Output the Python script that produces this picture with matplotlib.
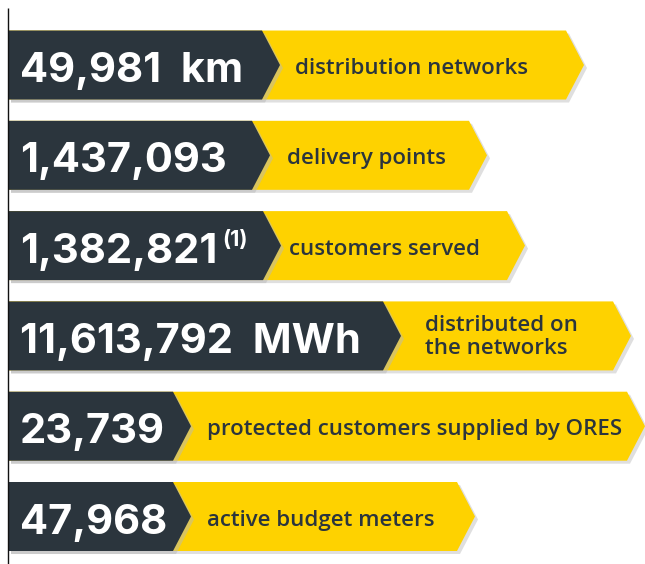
import matplotlib
matplotlib.use("Agg")
import matplotlib.pyplot as plt
from matplotlib.patches import Polygon

# ---- data ----
values = ["49,981  km", "1,437,093", "1,382,821", "11,613,792  MWh", "23,739", "47,968"]
notes = ["", "", "(1)", "", "", ""]
labels = ["distribution networks", "delivery points", "customers served",
          "distributed on\nthe networks", "protected customers supplied by ORES",
          "active budget meters"]

# ---- layout (pixels along x, row index along y) ----
dark_end = [262, 252, 263, 383, 173, 173]
yellow_end = [566, 469, 507, 613, 627, 457]
label_x = [295, 287, 289, 425, 207, 207]
TIP = 18
X0 = 8
ROW = 90.3          # pixels per row
HALF = 34.5 / ROW   # half bar height in row units

DARK = "#2b353d"
YELLOW = "#fed200"
SHADOW = "#b9b9b9"

fig = plt.figure(figsize=(6.45, 5.64), dpi=100)
ax = fig.add_axes([0, 0, 1, 1])
ax.set_xlim(0, 645)
ax.set_ylim(5.526, -0.72)
ax.axis("off")

def arrow(xe, y, dx=0.0, dy=0.0):
    t, b = y - HALF + dy, y + HALF + dy
    return [(X0 + dx, t), (xe + dx, t), (xe + TIP + dx, y + dy), (xe + dx, b), (X0 + dx, b)]

renderer = fig.canvas.get_renderer()
sh_dy = 3 / ROW
for i in range(len(values)):
    y = i
    ax.add_patch(Polygon(arrow(yellow_end[i], y, 3, sh_dy), closed=True,
                         fc=SHADOW, ec="none", alpha=0.45, zorder=1))
    ax.add_patch(Polygon(arrow(yellow_end[i], y), closed=True, fc=YELLOW, ec="none", zorder=2))
    ax.add_patch(Polygon(arrow(dark_end[i], y, 3, sh_dy), closed=True,
                         fc=SHADOW, ec="none", alpha=0.5, zorder=3))
    ax.add_patch(Polygon(arrow(dark_end[i], y), closed=True, fc=DARK, ec="none", zorder=4))

    t = ax.text(20, y + 17 / ROW, values[i], color="white", fontsize=30,
                fontfamily="Inter", fontweight="bold", va="baseline", ha="left", zorder=5)
    if notes[i]:
        bb = t.get_window_extent(renderer)
        xr = ax.transData.inverted().transform((bb.x1, bb.y0))[0]
        ax.text(xr + 5, y + 0.5 / ROW, notes[i], color="white", fontsize=15.5,
                fontfamily="Inter", fontweight="bold", va="baseline", ha="left", zorder=5)
    if "\n" in labels[i]:
        ax.text(label_x[i], y + 1 / ROW, labels[i], color=DARK, fontsize=16,
                fontfamily="Open Sans", fontweight="semibold", va="center", ha="left",
                linespacing=1.15, zorder=5)
    else:
        ax.text(label_x[i], y + 9 / ROW, labels[i], color=DARK, fontsize=16,
                fontfamily="Open Sans", fontweight="semibold", va="baseline", ha="left", zorder=5)

# left rule
ax.plot([X0, X0], [-0.72 + 8 / ROW, 5.526], color="#111111", lw=1.0, zorder=6,
        solid_capstyle="butt")

fig.savefig("out.png", dpi=100)
